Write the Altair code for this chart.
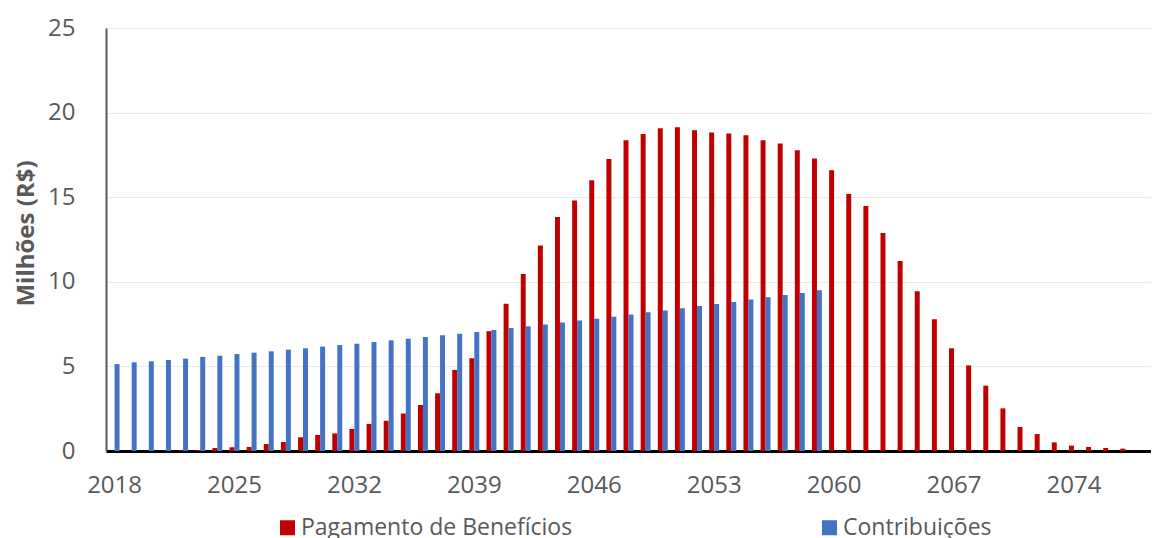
import altair as alt
import pandas as pd

years = [str(y) for y in range(2018, 2079)]

beneficios = [
    0.0, 0.0, 0.0, 0.02, 0.03, 0.06, 0.18, 0.22, 0.24, 0.41,
    0.53, 0.81, 0.95, 1.04, 1.30, 1.60, 1.79, 2.21, 2.72, 3.41,
    4.79, 5.48, 7.08, 8.71, 10.46, 12.14, 13.83, 14.81, 16.00, 17.26,
    18.36, 18.73, 19.07, 19.13, 18.95, 18.83, 18.77, 18.66, 18.36, 18.18,
    17.77, 17.28, 16.59, 15.19, 14.48, 12.88, 11.23, 9.44, 7.78, 6.07,
    5.06, 3.86, 2.52, 1.42, 1.00, 0.51, 0.32, 0.24, 0.18, 0.14,
    0.0,
]

contribuicoes = [
    5.14, 5.24, 5.30, 5.38, 5.46, 5.56, 5.63, 5.73, 5.81, 5.89,
    5.99, 6.07, 6.17, 6.26, 6.34, 6.44, 6.54, 6.64, 6.74, 6.84,
    6.93, 7.03, 7.15, 7.27, 7.37, 7.48, 7.60, 7.72, 7.82, 7.94,
    8.06, 8.20, 8.31, 8.43, 8.57, 8.69, 8.81, 8.96, 9.08, 9.22,
    9.34, 9.50,
] + [0.0] * 19

series_names = ["Pagamento de Benefícios", "Contribuições"]
series_colors = ["#C00000", "#4472C4"]
x_labels = [str(y) for y in range(2018, 2079, 7)]

rows = []
for i, y in enumerate(years):
    rows.append({"ano": y, "serie": series_names[0], "valor": beneficios[i]})
    rows.append({"ano": y, "serie": series_names[1], "valor": contribuicoes[i]})
df = pd.DataFrame(rows)

FONT = "Open Sans"
TXT = "#595959"

chart = (
    alt.Chart(df)
    .mark_bar()
    .encode(
        x=alt.X(
            "ano:O",
            sort=years,
            scale=alt.Scale(paddingInner=0.42, paddingOuter=0.21),
            axis=alt.Axis(
                values=x_labels,
                labelAngle=0,
                title=None,
                ticks=False,
                domainColor="#000000",
                domainWidth=3,
                labelFontSize=24,
                labelColor=TXT,
                labelFont=FONT,
                labelPadding=22,
            ),
        ),
        xOffset=alt.XOffset("serie:N", sort=series_names),
        y=alt.Y(
            "valor:Q",
            scale=alt.Scale(domain=[0, 25]),
            axis=alt.Axis(
                values=[0, 5, 10, 15, 20, 25],
                title="Milhões (R$)",
                titleFont=FONT,
                titleFontSize=24,
                titleFontWeight="bold",
                titleColor=TXT,
                titleX=-80,
                titleY=205,
                titleBaseline="middle",
                titleAlign="center",
                titleAngle=270,
                labelFontSize=24,
                labelColor=TXT,
                labelFont=FONT,
                labelPadding=31,
                ticks=False,
                domainColor=TXT,
                domainWidth=2,
                gridColor="#EBEBEB",
                gridWidth=1,
            ),
        ),
        color=alt.Color(
            "serie:N",
            sort=series_names,
            scale=alt.Scale(domain=series_names, range=series_colors),
            legend=alt.Legend(
                title=None,
                orient="none",
                legendX=170,
                legendY=488,
                direction="horizontal",
                columnPadding=245,
                symbolType="square",
                symbolSize=225,
                symbolStrokeWidth=0,
                labelFontSize=23,
                labelFont=FONT,
                labelColor=TXT,
                labelOffset=2,
                labelLimit=500,
                padding=0,
            ),
        ),
    )
    .properties(
        width=1045,
        height=423,
        autosize=alt.AutoSizeParams(type="none"),
        padding={"left": 98, "top": 20, "right": 0, "bottom": 90},
    )
    .configure_view(stroke=None)
)

chart.save("out.html", embed_options={"renderer": "svg", "actions": False})
